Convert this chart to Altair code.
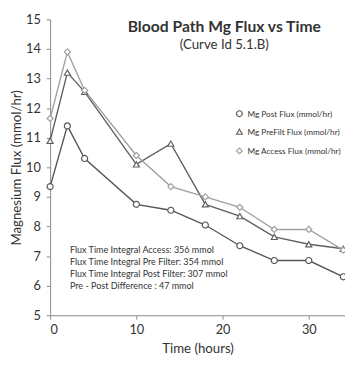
import altair as alt
import pandas as pd

time = [0, 2, 4, 10, 14, 18, 22, 26, 30, 34]
post_flux = [9.35, 11.4, 10.3, 8.75, 8.55, 8.05, 7.35, 6.85, 6.85, 6.3]
prefilt_flux = [10.9, 13.2, 12.55, 10.1, 10.8, 8.75, 8.35, 7.65, 7.4, 7.25]
access_flux = [11.65, 13.9, 12.6, 10.4, 9.35, 9.0, 8.65, 7.9, 7.9, 7.2]
series_names = ["Mg Post Flux (mmol/hr)", "Mg PreFilt Flux (mmol/hr)", "Mg Access Flux (mmol/hr)"]
series_colors = ["#555555", "#606060", "#a0a0a0"]
series_shapes = ["circle", "triangle-up", "diamond"]
y_ticks = [5, 6, 7, 8, 9, 10, 11, 12, 13, 14, 15]
x_ticks = [0, 10, 20, 30]

annotation_lines = [
    "Flux Time Integral Access: 356 mmol",
    "Flux Time Integral Pre Filter: 354 mmol",
    "Flux Time Integral Post Filter: 307 mmol",
    "Pre - Post Difference : 47 mmol",
]
chart_title = "Blood Path Mg Flux vs Time"
chart_subtitle = "(Curve Id 5.1.B)"

rows = []
for name, vals in zip(series_names, [post_flux, prefilt_flux, access_flux]):
    for t, v in zip(time, vals):
        rows.append({"time": t, "flux": v, "series": name})
df = pd.DataFrame(rows)

FONT = "Lato"
xs = alt.Scale(domain=[0, 34.2], nice=False, zero=False)
ys = alt.Scale(domain=[5, 15], nice=False, zero=False)

x_axis = alt.Axis(values=x_ticks, title="Time (hours)",
                  grid=False, domainColor="#888", tickColor="#888", tickSize=4, labelOverlap=False,
                  labelFontSize=13, labelColor="#333", labelFont=FONT, labelPadding=5,
                  titleFont=FONT, titleFontSize=13.5, titleFontWeight="normal", titleColor="#333", titlePadding=5)
y_axis = alt.Axis(values=y_ticks, tickCount=11, title="Magnesium Flux (mmol/hr)",
                  grid=False, domainColor="#888", tickColor="#888", tickSize=4, labelOverlap=False,
                  labelFontSize=13, labelColor="#333", labelFont=FONT, labelPadding=6,
                  titleFont=FONT, titleFontSize=13.5, titleFontWeight="normal", titleColor="#333", titlePadding=2)

def xe():
    return alt.X("time:Q", scale=xs, axis=x_axis)

def ye():
    return alt.Y("flux:Q", scale=ys, axis=y_axis)

color_scale = alt.Scale(domain=series_names, range=series_colors)
shape_scale = alt.Scale(domain=series_names, range=series_shapes)

legend = alt.Legend(title=None, orient="none", legendX=189, legendY=92,
                    labelFont=FONT, labelFontSize=8.4, labelColor="#333", labelOffset=4,
                    rowPadding=7.5, symbolSize=35, symbolStrokeWidth=1.2,
                    symbolFillColor="white")

lines = alt.Chart(df).mark_line(
    strokeWidth=1.4,
    point=alt.OverlayMarkDef(filled=False, fill="white", size=38, strokeWidth=1.2),
).encode(
    x=xe(), y=ye(),
    color=alt.Color("series:N", scale=color_scale, legend=legend),
    shape=alt.Shape("series:N", scale=shape_scale, legend=legend),
)

ann_df = pd.DataFrame({"time": [2.3], "flux": [7.35], "txt": ["\n".join(annotation_lines)]})
ann = alt.Chart(ann_df).mark_text(align="left", baseline="top", font=FONT, fontSize=9.2,
                                  lineBreak="\n", lineHeight=12.4, color="#333").encode(
    x=xe(), y=ye(), text="txt:N")

t1_df = pd.DataFrame({"time": [20.2], "flux": [14.75], "txt": [chart_title]})
t2_df = pd.DataFrame({"time": [20.2], "flux": [14.12], "txt": [chart_subtitle]})
title1 = alt.Chart(t1_df).mark_text(align="center", baseline="middle", font=FONT, fontSize=16,
                                    fontWeight="bold", color="#333").encode(
    x=xe(), y=ye(), text="txt:N")
title2 = alt.Chart(t2_df).mark_text(align="center", baseline="middle", font=FONT, fontSize=13.5,
                                    color="#333").encode(
    x=xe(), y=ye(), text="txt:N")

chart = alt.layer(lines, ann, title1, title2).properties(
    width=301, height=302,
    autosize=alt.AutoSizeParams(type="none"),
    padding={"left": 43, "top": 8, "right": 0, "bottom": 41},
    background="white",
).configure_view(stroke=None).configure_axisY(labelOverlap=False)

chart.save("out.html", embed_options={"renderer": "svg", "actions": False})
